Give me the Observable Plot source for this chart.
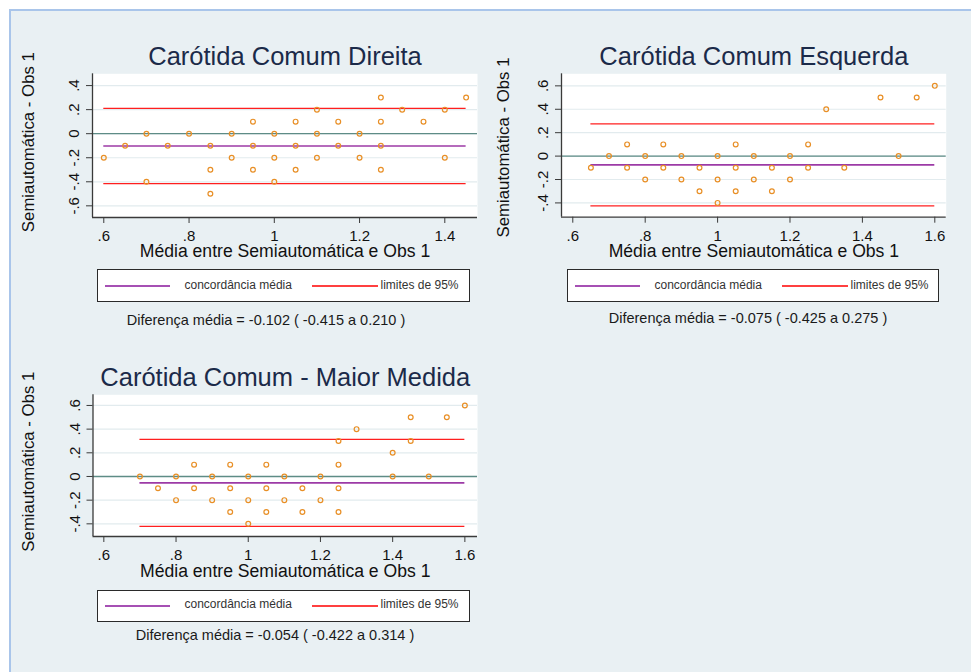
<!DOCTYPE html>
<html><head><meta charset="utf-8">
<script src="https://cdn.jsdelivr.net/npm/d3@7"></script>
<script src="https://cdn.jsdelivr.net/npm/@observablehq/plot@0.6"></script>
<style>
body{margin:0;background:#fff;font-family:"Liberation Sans",Arial,Helvetica,sans-serif;}
#root{position:relative;width:971px;height:672px;overflow:hidden;}
#bg{position:absolute;left:9px;top:9px;width:970px;height:670px;background:#e9f0f3;border-left:2px solid #a9c5ea;border-top:2px solid #a9c5ea;}
.legend{position:absolute;box-sizing:border-box;background:#fff;border:1.5px solid #2a2a2a;}
.legend .ln{position:absolute;height:2px;}
.legend .lt{position:absolute;font-size:12px;line-height:12px;color:#333;white-space:nowrap;}
.note{position:absolute;font-size:14.5px;line-height:14.5px;color:#1a1a1a;white-space:nowrap;text-align:center;width:400px;}
</style></head><body><div id="root"><div id="bg"></div></div>
<script>
// ---------- data ----------
const titles = ["Carótida Comum Direita", "Carótida Comum Esquerda", "Carótida Comum - Maior Medida"];
const xTitle = "Média entre Semiautomática e Obs 1";
const yTitle = "Semiautomática - Obs 1";
const legendLabels = ["concordância média", "limites de 95%"];

const p1X = [0.6,0.65,0.7,0.7,0.75,0.8,0.85,0.85,0.85,0.9,0.9,0.95,0.95,0.95,1.0,1.0,1.0,1.05,1.05,1.05,1.1,1.1,1.1,1.15,1.15,1.2,1.2,1.25,1.25,1.25,1.25,1.3,1.35,1.4,1.4,1.45];
const p1Y = [-0.2,-0.1,0,-0.4,-0.1,0,-0.1,-0.3,-0.5,0,-0.2,0.1,-0.1,-0.3,0,-0.2,-0.4,0.1,-0.1,-0.3,0.2,0,-0.2,0.1,-0.1,0,-0.2,0.3,0.1,-0.1,-0.3,0.2,0.1,0.2,-0.2,0.3];
const p1Stats = [-0.102, -0.415, 0.210]; // mean, lower, upper

const p2X = [0.65,0.7,0.75,0.75,0.8,0.8,0.85,0.85,0.9,0.9,0.95,0.95,1.0,1.0,1.0,1.05,1.05,1.05,1.1,1.1,1.15,1.15,1.2,1.2,1.25,1.25,1.3,1.35,1.45,1.5,1.55,1.6];
const p2Y = [-0.1,0,0.1,-0.1,0,-0.2,0.1,-0.1,0,-0.2,-0.1,-0.3,0,-0.2,-0.4,0.1,-0.1,-0.3,0,-0.2,-0.1,-0.3,0,-0.2,0.1,-0.1,0.4,-0.1,0.5,0,0.5,0.6];
const p2Stats = [-0.075, -0.425, 0.275];

const p3X = [0.7,0.75,0.8,0.8,0.85,0.85,0.9,0.9,0.95,0.95,0.95,1.0,1.0,1.0,1.05,1.05,1.05,1.1,1.1,1.15,1.15,1.2,1.2,1.25,1.25,1.25,1.25,1.3,1.4,1.4,1.45,1.45,1.5,1.55,1.6];
const p3Y = [0,-0.1,0,-0.2,0.1,-0.1,0,-0.2,0.1,-0.1,-0.3,0,-0.2,-0.4,0.1,-0.1,-0.3,0,-0.2,-0.1,-0.3,0,-0.2,0.3,0.1,-0.1,-0.3,0.4,0.2,0,0.5,0.3,0,0.5,0.6];
const p3Stats = [-0.054, -0.422, 0.314];

const xTicks1 = [0.6,0.8,1,1.2,1.4];
const xTickLabels1 = [".6",".8","1","1.2","1.4"];
const yTicks1 = [-0.6,-0.4,-0.2,0,0.2,0.4];
const yTickLabels1 = ["-.6","-.4","-.2","0",".2",".4"];
const xTicks23 = [0.6,0.8,1,1.2,1.4,1.6];
const xTickLabels23 = [".6",".8","1","1.2","1.4","1.6"];
const yTicks23 = [-0.4,-0.2,0,0.2,0.4,0.6];
const yTickLabels23 = ["-.4","-.2","0",".2",".4",".6"];

// ---------- drawing ----------
const FONT = '"Liberation Sans", Arial, Helvetica, sans-serif';
const root = document.getElementById("root");
const fmt = v => v.toFixed(3);

function panel(c) {
  const pts = c.x.map((x, i) => ({x, y: c.y[i]}));
  const [xmin, xmax] = d3.extent(c.x);
  const [mean, lo, hi] = c.stats;
  const meanRule = [{v: mean, x1: xmin, x2: xmax}];
  const limRules = [lo, hi].map(v => ({v, x1: xmin, x2: xmax}));
  const svg = Plot.plot({
    width: c.width, height: c.height,
    marginLeft: c.m[0], marginRight: c.m[1], marginTop: c.m[2], marginBottom: c.m[3],
    x: {domain: c.xDomain},
    y: {domain: c.yDomain},
    style: {background: "transparent", fontFamily: FONT, overflow: "visible"},
    marks: [
      Plot.frame({fill: "#ffffff", stroke: "none"}),
      Plot.gridY({ticks: c.yTicks, stroke: "#e2ebee", strokeOpacity: 1, strokeWidth: 1.2}),
      Plot.ruleY([0], {stroke: "#5e8c86", strokeWidth: 1.3}),
      Plot.ruleY(limRules, {y: "v", x1: "x1", x2: "x2", stroke: "#ff1f1f", strokeWidth: 1.3}),
      Plot.ruleY(meanRule, {y: "v", x1: "x1", x2: "x2", stroke: "#9c3aa6", strokeWidth: 1.6}),
      Plot.dot(pts, {x: "x", y: "y", r: 2.4, stroke: "#e88f26", strokeWidth: 1.2, fill: "none"}),
      Plot.ruleX([c.xDomain[0]], {stroke: "#3a3a3a", strokeWidth: 1.3}),
      Plot.ruleY([c.yDomain[0]], {stroke: "#3a3a3a", strokeWidth: 1.3}),
      Plot.axisX({ticks: c.xTicks, tickFormat: d => c.xLabels[c.xTicks.indexOf(d)], tickSize: 6, tickPadding: 7,
        fontSize: 15, label: null, stroke: "#3a3a3a", fill: "#111"}),
      Plot.axisY({ticks: c.yTicks, tickFormat: d => c.yLabels[c.yTicks.indexOf(d)], tickSize: 6, tickPadding: 7.5,
        tickRotate: -90, fontSize: 15, label: null, stroke: "#3a3a3a", fill: "#111"}),
      Plot.text([c.title], {text: d => d, frameAnchor: "top", textAnchor: "middle", lineAnchor: "bottom", dy: c.titleDy, fontSize: 25.5, fill: "#1b2a49"}),
      Plot.text([xTitle], {text: d => d, frameAnchor: "bottom", textAnchor: "middle", lineAnchor: "bottom", dy: c.xTitleDy, fontSize: 17.6, fill: "#111"}),
      Plot.text([yTitle], {text: d => d, frameAnchor: "left", textAnchor: "middle", rotate: -90, lineAnchor: "middle", dx: c.yTitleDx, dy: c.yTitleDy, fontSize: 16.8, fill: "#111"})
    ]
  });
  svg.style.position = "absolute";
  svg.style.left = c.left + "px";
  svg.style.top = c.top + "px";
  root.appendChild(svg);

  // legend
  const lg = document.createElement("div");
  lg.className = "legend";
  Object.assign(lg.style, {left: c.lg[0] + "px", top: c.lg[1] + "px", width: c.lg[2] + "px", height: c.lg[3] + "px"});
  const lineY = Math.round(c.lg[4] - 1.5 - 1), textTop = c.lg[5] - 1.5 - 0.8465 * 12;
  lg.innerHTML =
    `<div class="ln" style="left:6.5px;width:65px;top:${lineY}px;background:#a650b4"></div>` +
    `<div class="lt" style="left:86.5px;top:${textTop}px">${legendLabels[0]}</div>` +
    `<div class="ln" style="left:214px;width:66px;top:${lineY}px;background:#ff4040"></div>` +
    `<div class="lt" style="left:282.5px;top:${textTop}px">${legendLabels[1]}</div>`;
  root.appendChild(lg);

  // note
  const nt = document.createElement("div");
  nt.className = "note";
  nt.textContent = `Diferença média = ${fmt(mean)} ( ${fmt(lo)} a ${fmt(hi)} )`;
  Object.assign(nt.style, {left: (c.noteX - 200) + "px", top: (c.noteBase - 0.8465 * 14.5) + "px"});
  root.appendChild(nt);
}

panel({x: p1X, y: p1Y, stats: p1Stats, title: titles[0],
  xDomain: [0.5735, 1.4767], yDomain: [-0.697, 0.498],
  xTicks: xTicks1, xLabels: xTickLabels1, yTicks: yTicks1, yLabels: yTickLabels1,
  left: 0, top: 30, width: 480, height: 240, m: [92, 3, 43.3, 53],
  titleDy: -9.3, xTitleDy: 39, yTitleDx: -63.5, yTitleDy: -3.5,
  lg: [97, 269, 373, 33, 17, 20.3], noteX: 266, noteBase: 325.5});

panel({x: p2X, y: p2Y, stats: p2Stats, title: titles[1],
  xDomain: [0.5688, 1.6315], yDomain: [-0.522, 0.703],
  xTicks: xTicks23, xLabels: xTickLabels23, yTicks: yTicks23, yLabels: yTickLabels23,
  left: 480, top: 30, width: 491, height: 240, m: [81, 25.3, 43.3, 53.3],
  titleDy: -9.3, xTitleDy: 39.3, yTitleDx: -58, yTitleDy: 2,
  lg: [567, 269, 372, 33, 17, 20.3], noteX: 748, noteBase: 323.3});

panel({x: p3X, y: p3Y, stats: p3Stats, title: titles[2],
  xDomain: [0.570, 1.635], yDomain: [-0.507, 0.690],
  xTicks: xTicks23, xLabels: xTickLabels23, yTicks: yTicks23, yLabels: yTickLabels23,
  left: 0, top: 350, width: 480, height: 240, m: [92.5, 3, 44.3, 54],
  titleDy: -9.3, xTitleDy: 40.7, yTitleDx: -64.5, yTitleDy: -4,
  lg: [97, 590, 373, 32, 16, 19], noteX: 275, noteBase: 640});
</script></body></html>
